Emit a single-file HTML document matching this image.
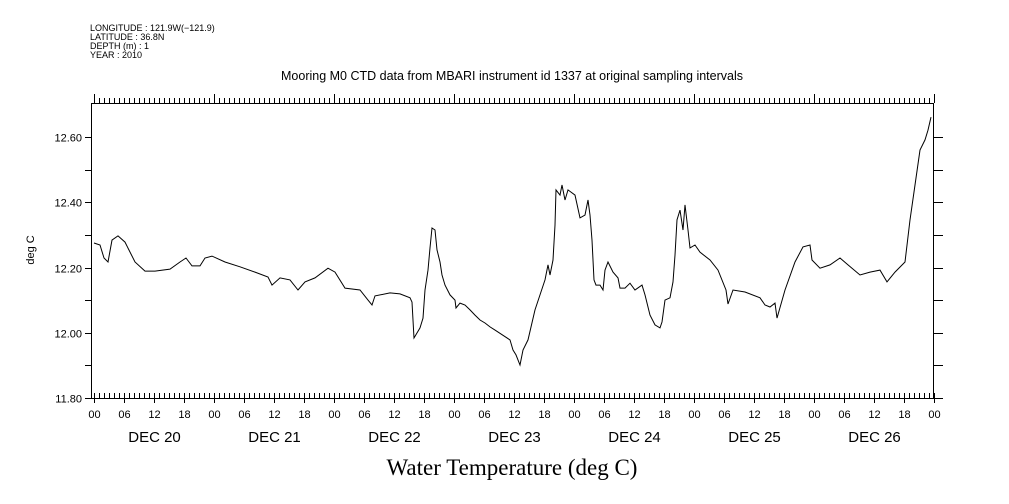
<!DOCTYPE html>
<html><head><meta charset="utf-8"><style>
html,body{margin:0;padding:0;background:#fff;}
svg{display:block;font-family:"Liberation Sans",sans-serif;}
</style></head><body>
<svg id="chart" width="1009" height="504" viewBox="0 0 1009 504" xmlns="http://www.w3.org/2000/svg">
<g font-size="9" fill="#000">
<text x="90" y="31">LONGITUDE : 121.9W(−121.9)</text>
<text x="90" y="40">LATITUDE : 36.8N</text>
<text x="90" y="49">DEPTH (m) : 1</text>
<text x="90" y="58">YEAR : 2010</text>
</g>
<text x="512" y="80" font-size="12.5" text-anchor="middle">Mooring M0 CTD data from MBARI instrument id 1337 at original sampling intervals</text>
<text x="0" y="0" font-size="11" text-anchor="middle" transform="translate(34,250) rotate(-90)">deg C</text>
<text x="512" y="475" font-size="23" text-anchor="middle" font-family="Liberation Serif, serif">Water Temperature (deg C)</text>
<g id="axes"></g>
<path id="series" fill="none" stroke="#000" stroke-width="1"/>
</svg>
<script>
const hours=[0,1.2,2,2.8,3.6,4.8,6.2,8.2,10.2,12.2,15.2,17.2,18.4,19.6,21.2,22.2,23.6,26.2,29.2,32.2,34.8,35.6,37.2,39.2,40.8,42.2,44.2,46.8,48.2,50.2,53.2,54.8,55.6,56.2,59.2,
61.2,63.2,63.6,64,65.2,65.8,66.2,66.8,67.2,67.6,68.2,68.6,69.2,69.6,70.2,71.2,72.2,72.4,73.2,74.2,75.2,76.2,77.2,78.2,79.2,80.2,83.2,83.8,84.4,85.2,85.8,86.8,88.2,89.2,90.2,90.8,91.2,91.8,92.2,92.4,93.2,93.6,94.2,94.8,96.2,97.2,98.2,98.8,99.2,99.6,100,100.4,101.2,101.8,102.2,102.8,103.8,104.8,105.2,106.2,107.2,108.2,109.6,110.2,111.2,112.2,113.2,113.6,114.2,115.2,115.8,116.2,116.6,117.2,117.8,118.2,118.8,119.2,120.2,121.2,123.2,124.8,
126.4,126.8,127.8,130.2,133.2,134.2,135.2,136.2,136.6,138.2,140.2,141.8,143.2,143.6,145.2,147.2,149.2,150.8,153.2,155.2,157.2,158.6,160.2,162.2,163.2,164.2,165.2,166.2,166.8,167.4];
const temps=[12.275,12.269,12.229,12.217,12.284,12.297,12.278,12.217,12.189,12.189,12.195,12.217,12.229,12.205,12.205,12.229,12.235,12.217,12.202,12.186,12.171,12.146,12.168,12.162,12.131,12.156,12.168,12.198,12.186,12.137,12.131,12.100,12.085,12.113,12.122,
12.119,12.107,12.094,11.984,12.015,12.045,12.131,12.192,12.260,12.321,12.315,12.254,12.217,12.177,12.146,12.116,12.100,12.076,12.091,12.085,12.070,12.054,12.039,12.030,12.018,12.008,11.978,11.947,11.932,11.901,11.947,11.978,12.070,12.116,12.162,12.208,12.177,12.223,12.330,12.438,12.422,12.453,12.407,12.438,12.422,12.352,12.361,12.407,12.361,12.284,12.162,12.146,12.146,12.131,12.192,12.217,12.186,12.168,12.137,12.137,12.152,12.131,12.146,12.116,12.054,12.024,12.015,12.033,12.100,12.107,12.156,12.238,12.346,12.376,12.315,12.392,12.315,12.260,12.269,12.247,12.223,12.192,
12.131,12.088,12.131,12.125,12.107,12.085,12.079,12.091,12.045,12.131,12.217,12.263,12.269,12.223,12.198,12.208,12.229,12.208,12.177,12.186,12.192,12.156,12.186,12.217,12.346,12.453,12.560,12.591,12.621,12.661];
const yTicks=[11.8,11.9,12.0,12.1,12.2,12.3,12.4,12.5,12.6];
const yTickLabels=["11.80","","12.00","","12.20","","12.40","","12.60"];
const dayLabels=["DEC 20","DEC 21","DEC 22","DEC 23","DEC 24","DEC 25","DEC 26"];
const hourLabels=["00","06","12","18"];

const L=91,R=933,T=103,B=398,X0=94,PXH=5;
const yMin=11.8,yMax=12.6,yMaxPx=137;
function xs(h){return X0+h*PXH;}
function ys(v){return B-(v-yMin)/(yMax-yMin)*(B-yMaxPx);}
const NS="http://www.w3.org/2000/svg";
const ax=document.getElementById('axes');
function ln(x1,y1,x2,y2,name){const e=document.createElementNS(NS,'line');e.setAttribute('x1',x1);e.setAttribute('y1',y1);e.setAttribute('x2',x2);e.setAttribute('y2',y2);e.setAttribute('stroke','#000');e.setAttribute('stroke-width','1');


ax.appendChild(e);return e;}
function tx(x,y,s,size,anchor,name){const e=document.createElementNS(NS,'text');e.setAttribute('x',x);e.setAttribute('y',y);e.setAttribute('font-size',size);e.setAttribute('text-anchor',anchor);e.textContent=s;


ax.appendChild(e);}
ln(L+0.5,T,L+0.5,B+0.5,'left-axis');
ln(R+0.5,T,R+0.5,B+0.5,'right-axis');
ln(L,T+0.5,R+1,T+0.5,'top-axis');
ln(L,B+0.5,R+1,B+0.5,'bottom-axis');
yTicks.forEach((v,i)=>{const y=Math.round(ys(v))+0.5;
ln(L-6,y,L,y,'y-tick');ln(R,y,R+10,y,'y-tick-right');
if(yTickLabels[i])tx(L-9,y+4,yTickLabels[i],11,'end','y-tick-label');});
for(let h=0;h<=168;h++){const x=Math.round(xs(h))+0.5;
const major=h%24===0,six=h%6===0;
ln(x,T-(major?9:5),x,T,'top-tick');
ln(x,B-5,x,B+(six?5:0),'bottom-tick');
if(six)tx(x,B+20,hourLabels[(h/6)%4],11,'middle','hour-label');
if(h%24===12&&h<168)tx(x,B+44,dayLabels[h/24|0],15,'middle','day-label');}
let d='';const n=Math.min(hours.length,temps.length);
for(let i=0;i<n;i++){d+=(i?'L':'M')+xs(hours[i]).toFixed(1)+' '+ys(temps[i]).toFixed(1);}
document.getElementById('series').setAttribute('d',d);
</script>
</body></html>
